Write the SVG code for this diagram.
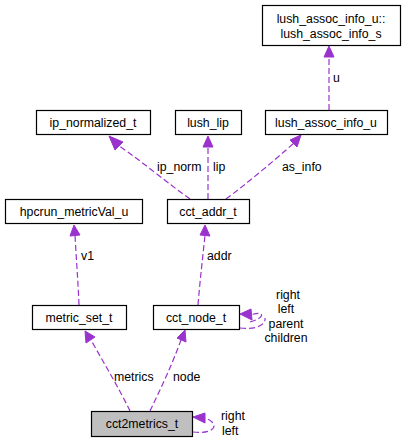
<svg xmlns="http://www.w3.org/2000/svg" width="406" height="444" viewBox="0 0 406 444">
<style>
.box{fill:#fff;stroke:#000;stroke-width:1.2}
.hl{fill:#bfbfbf;stroke:#000;stroke-width:1.2}
text{font-family:"Liberation Sans",Arial,sans-serif;font-size:12.3px;fill:#000}
.nt{text-anchor:middle}
.e{fill:none;stroke:#9a32cd;stroke-width:1.2;stroke-dasharray:6,3}
.ah{fill:#9a32cd;stroke:#9a32cd}
</style>
<rect width="406" height="444" fill="#fff"/>
<g id="connectors">
<path class="e" d="M329,110 L329,56"/>
<polygon class="ah" points="324,57 329,46 334,57"/>
<text x="333" y="82">u</text>
<path class="e" d="M190,199 C170,185 140,160 118,145"/>
<polygon class="ah" points="115,150 109,136 123,142"/>
<text x="157" y="171">ip_norm</text>
<path class="e" d="M208,199 L208,146"/>
<polygon class="ah" points="203,147 208,136 213,147"/>
<text x="213" y="171">lip</text>
<path class="e" d="M226,199 C245,185 275,160 294,143"/>
<polygon class="ah" points="290,140 301,135 297,147"/>
<text x="282" y="171">as_info</text>
<path class="e" d="M79,305 C78,280 76,255 75,235"/>
<polygon class="ah" points="70,236 74,225 80,235"/>
<text x="81" y="260">v1</text>
<path class="e" d="M198,305 C200,280 203,255 205,235"/>
<polygon class="ah" points="200,235 205,225 210,236"/>
<text x="207" y="260">addr</text>
<path class="e" d="M250,322 C265,318 266,310 250,315"/>
<path class="e" d="M240,328 C258,330 266,324 265,318"/>
<polygon class="ah" points="251,309 240,314 252,320"/>
<text x="288" y="299" class="nt">right</text>
<text x="286" y="313" class="nt">left</text>
<text x="286" y="328" class="nt">parent</text>
<text x="286" y="342" class="nt">children</text>
<path class="e" d="M130,411 C120,390 105,365 91,340"/>
<polygon class="ah" points="86,343 85,331 95,337"/>
<text x="114" y="381">metrics</text>
<path class="e" d="M150,411 C160,390 172,365 181,340"/>
<polygon class="ah" points="177,338 185,330 186,342"/>
<text x="173" y="381">node</text>
<path class="e" d="M193,432 C210,434 218,428 212,422 C209,419 207,419 204,418"/>
<polygon class="ah" points="205,413 193,417 205,423"/>
<text x="221" y="420">right</text>
<text x="222" y="435">left</text>
</g>
<g id="node_lush_assoc_info_s">
<rect class="box" x="262.5" y="5.5" width="138" height="40"/>
<text class="nt" x="331" y="23">lush_assoc_info_u::</text>
<text class="nt" x="331" y="38">lush_assoc_info_s</text>
</g>
<g id="node_lush_assoc_info_u">
<rect class="box" x="265.5" y="110.5" width="122" height="24"/>
<text class="nt" x="326" y="127">lush_assoc_info_u</text>
</g>
<g id="node_ip_normalized_t">
<rect class="box" x="36.5" y="110.5" width="114" height="24"/>
<text class="nt" x="93" y="127">ip_normalized_t</text>
</g>
<g id="node_lush_lip">
<rect class="box" x="175.5" y="110.5" width="66" height="24"/>
<text class="nt" x="208" y="127">lush_lip</text>
</g>
<g id="node_hpcrun_metricVal_u">
<rect class="box" x="5.5" y="199.5" width="137" height="24"/>
<text class="nt" x="74" y="216">hpcrun_metricVal_u</text>
</g>
<g id="node_cct_addr_t">
<rect class="box" x="167.5" y="199.5" width="82" height="24"/>
<text class="nt" x="208" y="216">cct_addr_t</text>
</g>
<g id="node_metric_set_t">
<rect class="box" x="32.5" y="305.5" width="94" height="24"/>
<text class="nt" x="79" y="322">metric_set_t</text>
</g>
<g id="node_cct_node_t">
<rect class="box" x="153.5" y="305.5" width="86" height="24"/>
<text class="nt" x="196" y="322">cct_node_t</text>
</g>
<g id="node_cct2metrics_t">
<rect class="hl" x="91.5" y="411.5" width="101" height="25"/>
<text class="nt" x="142" y="428">cct2metrics_t</text>
</g>
</svg>
